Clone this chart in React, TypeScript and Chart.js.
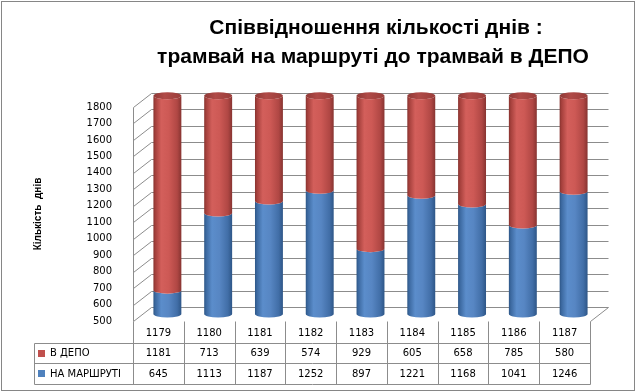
import React, { useEffect, useRef } from "react";
import { Chart, registerables } from "chart.js";

Chart.register(...registerables);

const categories = ["1179", "1180", "1181", "1182", "1183", "1184", "1185", "1186", "1187"];
const vDepo = [1181, 713, 639, 574, 929, 605, 658, 785, 580];
const naMarshruti = [645, 1113, 1187, 1252, 897, 1221, 1168, 1041, 1246];
const seriesNames = ["В ДЕПО", "НА МАРШРУТІ"];
const titleLines = ["Співвідношення кількості днів :", "трамвай на маршруті до трамвай в ДЕПО"];
const yTitle = "Кількість  днів";
const yMin = 500;
const yMax = 1800;
const yStep = 100;

const DX = 18;
const DY = -14;
const LINE = "#8c8c8c";
const RED = "#C0504D";
const BLUE = "#4F81BD";

const redStops: [number, string][] = [
  [0, "#87332f"], [0.07, "#a5403c"], [0.28, "#d35f5b"], [0.55, "#cd5955"], [0.85, "#b04744"], [1, "#873431"],
];
const blueStops: [number, string][] = [
  [0, "#2d5686"], [0.07, "#3c69a0"], [0.28, "#5b8dcb"], [0.55, "#5786c3"], [0.85, "#416ea7"], [1, "#2e5687"],
];

const cylPlugin = {
  id: "cyl3d",
  beforeDatasetsDraw(chart: any) {
    const { ctx, chartArea: a, scales } = chart;
    const y = scales.y;
    ctx.save();
    ctx.strokeStyle = LINE;
    ctx.lineWidth = 1;
    ctx.beginPath();
    for (const t of y.ticks) {
      const py = Math.round(y.getPixelForValue(t.value)) + 0.5;
      ctx.moveTo(a.left + 0.5, py);
      ctx.lineTo(a.left + DX + 0.5, py + DY);
      ctx.lineTo(a.right + DX + 0.5, py + DY);
    }
    const topY = Math.round(y.getPixelForValue(yMax)) + 0.5;
    const botY = Math.round(y.getPixelForValue(yMin)) + 0.5;
    ctx.moveTo(a.left + 0.5, topY);
    ctx.lineTo(a.left + 0.5, botY);
    ctx.moveTo(a.right + 0.5, botY);
    ctx.lineTo(a.right + DX + 0.5, botY + DY);
    ctx.stroke();
    ctx.restore();
  },
  afterDatasetsDraw(chart: any) {
    const { ctx, scales } = chart;
    const y = scales.y;
    const floor = y.getPixelForValue(yMin);
    const n = chart.data.datasets.length;
    ctx.save();
    for (let d = 0; d < n; d++) {
      const meta = chart.getDatasetMeta(d);
      const stops = d === 0 ? blueStops : redStops;
      meta.data.forEach((bar: any) => {
        const p = bar.getProps(["x", "y", "base", "width"], true);
        const rx = p.width / 2;
        const ry = 3.5;
        const cx = p.x + DX / 2;
        const top = Math.min(p.y, p.base) + DY / 2;
        const bot = Math.min(Math.max(p.y, p.base), floor) + DY / 2;
        const g = ctx.createLinearGradient(cx - rx, 0, cx + rx, 0);
        stops.forEach(([o, c]) => g.addColorStop(o, c));
        ctx.beginPath();
        ctx.moveTo(cx - rx, top);
        ctx.lineTo(cx - rx, bot);
        ctx.ellipse(cx, bot, rx, ry, 0, Math.PI, 0, true);
        ctx.lineTo(cx + rx, top);
        ctx.ellipse(cx, top, rx, ry, 0, 0, Math.PI, false);
        ctx.closePath();
        ctx.fillStyle = g;
        ctx.fill();
        if (d === n - 1) {
          const gc = ctx.createLinearGradient(cx - rx, 0, cx + rx, 0);
          gc.addColorStop(0, "#8f3835");
          gc.addColorStop(0.4, "#b04a47");
          gc.addColorStop(1, "#9a3d3a");
          ctx.beginPath();
          ctx.ellipse(cx, top, rx, ry, 0, 0, Math.PI * 2);
          ctx.fillStyle = gc;
          ctx.fill();
        }
      });
    }
    ctx.restore();
  },
  afterDraw(chart: any) {
    const { ctx, chartArea: a, scales } = chart;
    const x = scales.x;
    const y = scales.y;
    ctx.save();
    // outer border
    ctx.strokeStyle = "#868686";
    ctx.lineWidth = 1;
    ctx.strokeRect(1.5, 1.5, 633, 389);

    // title
    ctx.fillStyle = "#000";
    ctx.textAlign = "center";
    ctx.textBaseline = "middle";
    ctx.font = 'bold 21px "Liberation Sans", Arial, sans-serif';
    ctx.fillText(titleLines[0], 376, 28);
    ctx.fillText(titleLines[1], 373, 57);

    // data table
    const colW = (a.right - a.left) / categories.length;
    const top = Math.round(y.getPixelForValue(yMin)) + 0.5;
    const rowH = 20.5;
    const r1 = top + 21;
    const r2 = r1 + rowH;
    const r3 = r2 + rowH;
    const tableLeft = 34.5;
    ctx.strokeStyle = LINE;
    ctx.beginPath();
    for (const ry of [r1, r2, r3]) {
      const yy = Math.round(ry) + 0.5;
      ctx.moveTo(tableLeft, yy);
      ctx.lineTo(a.right + 0.5, yy);
    }
    ctx.moveTo(tableLeft, Math.round(r1) + 0.5);
    ctx.lineTo(tableLeft, Math.round(r3) + 0.5);
    for (let i = 0; i <= categories.length; i++) {
      const xx = Math.round(a.left + i * colW) + 0.5;
      ctx.moveTo(xx, top);
      ctx.lineTo(xx, Math.round(r3) + 0.5);
    }
    ctx.stroke();

    ctx.font = '10px "DejaVu Sans", sans-serif';
    ctx.fillStyle = "#000";
    ctx.textAlign = "center";
    const rows = [vDepo, naMarshruti];
    const rowCenters = [(r1 + r2) / 2, (r2 + r3) / 2];
    categories.forEach((c, i) => {
      const cx = x.getPixelForValue(i);
      ctx.fillText(c, cx, (top + r1) / 2 + 1);
      rows.forEach((vals, r) => ctx.fillText(String(vals[i]), cx, rowCenters[r] + 1));
    });
    ctx.textAlign = "left";
    const colors = [RED, BLUE];
    seriesNames.forEach((name, r) => {
      ctx.fillStyle = colors[r];
      ctx.fillRect(38, Math.round(rowCenters[r]) - 3, 7, 7);
      ctx.fillStyle = "#000";
      ctx.fillText(name, 50, rowCenters[r] + 1);
    });
    ctx.restore();
  },
};

export default function App() {
  const ref = useRef<HTMLCanvasElement | null>(null);
  useEffect(() => {
    if (!ref.current) return;
    const chart = new Chart(ref.current, {
      type: "bar",
      data: {
        labels: categories,
        datasets: [
          { label: seriesNames[1], data: naMarshruti, backgroundColor: "rgba(0,0,0,0)", borderWidth: 0 },
          { label: seriesNames[0], data: vDepo, backgroundColor: "rgba(0,0,0,0)", borderWidth: 0 },
        ],
      },
      options: {
        responsive: false,
        animation: false,
        devicePixelRatio: 1,
        layout: { padding: { left: 0, top: 107, right: 46, bottom: 71 } },
        datasets: { bar: { categoryPercentage: 1, barPercentage: 0.55 } },
        plugins: { legend: { display: false }, tooltip: { enabled: false }, title: { display: false } },
        scales: {
          x: { display: false, stacked: true },
          y: {
            stacked: true,
            min: yMin,
            max: yMax,
            grid: { display: false },
            border: { display: false },
            ticks: {
              stepSize: yStep,
              padding: 13,
              color: "#000",
              font: { family: "DejaVu Sans", size: 10 },
              callback: (v: any) => String(v),
            },
            title: {
              display: true,
              text: yTitle,
              color: "#000",
              font: { family: "Liberation Sans", size: 10, weight: "bold" },
              padding: { top: 32, bottom: 0 },
            },
            afterFit: (s: any) => {
              s.width = 133;
            },
          },
        },
      },
      plugins: [cylPlugin],
    });
    return () => chart.destroy();
  }, []);
  return (
    <div style={{ position: "absolute", left: 0, top: 0, width: 636, height: 392, background: "#fff" }}>
      <canvas ref={ref} width={636} height={392} />
    </div>
  );
}
